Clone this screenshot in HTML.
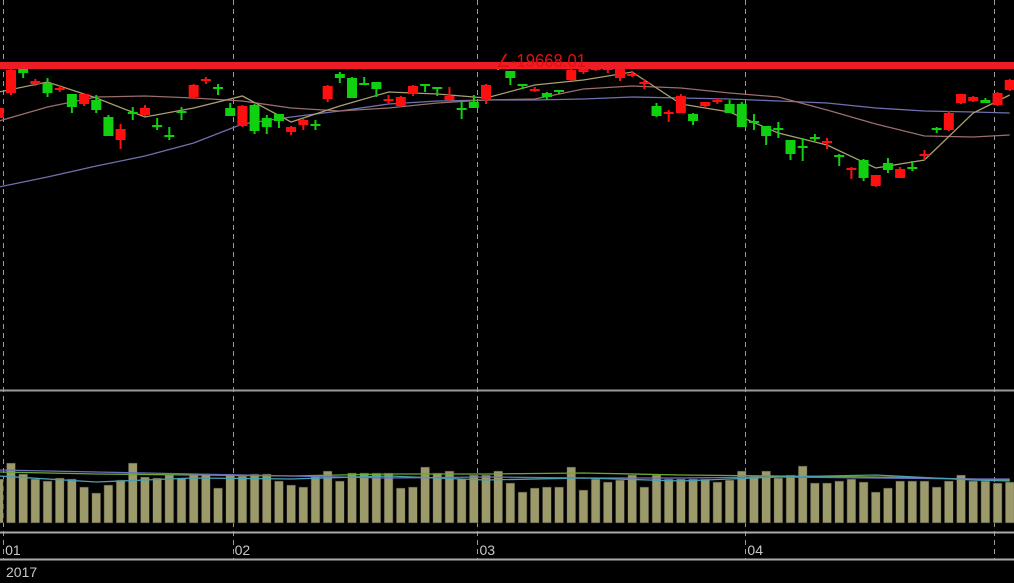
<!DOCTYPE html>
<html><head><meta charset="utf-8"><style>
html,body{margin:0;padding:0;background:#000;width:1014px;height:583px;overflow:hidden}
svg{display:block}
text{font-family:"Liberation Sans",sans-serif}
</style></head><body>
<svg id="chart" width="1014" height="583" viewBox="0 0 1014 583" xmlns="http://www.w3.org/2000/svg">
<rect x="0" y="0" width="1014" height="583" fill="#000"/>
<g id="grid"></g>
<g id="vol"></g>
<g id="ma"></g>
<g id="candles"></g>
<rect x="0" y="62" width="1014" height="7" fill="#ee1c25"/>
<text x="496" y="67" fill="#e01010" font-size="18" textLength="90" lengthAdjust="spacingAndGlyphs">∠-19668.01</text>
<g id="axis"></g>
</svg>
<script>
// candle data in price units (y = 400 - value)
const opens=[282,307,337,316,317,311,306,296,300,283,260,288,285,275,265,289,303,320,313,292,274,295,282,286,268,275,276,301,326,322,317,318,300,294,306,316,313,300,292,298,301,337,329,316,310,307,310,320,328,330,331,322,325,317,294,287,287,286,294,299,296,296,279,274,272,260,254,263,258,245,231,240,214,237,222,233,245,272,270,297,299,300,295,310];
const highs=[294,332,337,321,322,315,306,307,305,285,276,293,295,282,273,293,316,323,316,297,295,296,285,286,274,281,280,315,328,323,323,318,305,304,315,316,313,313,298,305,316,338,329,316,313,308,310,332,332,338,338,331,329,321,297,290,306,287,298,302,300,298,286,274,278,260,262,266,262,246,233,241,225,242,233,239,250,273,289,306,304,302,308,321];
const lows=[280,305,322,314,303,308,287,294,287,264,251,280,284,270,260,280,301,316,305,284,273,266,266,272,265,270,270,298,317,302,316,303,297,293,304,308,304,299,281,292,296,330,315,311,308,300,306,319,326,329,327,319,323,311,283,278,287,275,292,296,287,273,270,255,262,240,239,259,251,234,221,219,213,227,222,229,240,267,269,296,298,297,294,309];
const closes=[292,330,327,319,307,312,293,306,290,264,271,287,292,273,264,288,315,321,312,284,294,269,273,279,273,280,275,314,322,302,316,311,301,303,314,315,312,304,291,292,315,332,322,315,311,303,309,330,332,336,332,331,326,318,284,288,304,279,298,300,287,273,278,264,271,246,253,262,259,244,232,222,225,230,231,232,246,271,287,306,303,297,307,320];
const volumes=[44,60,49,44,42,45,44,36,30,38,43,60,46,45,48,45,48,49,35,49,47,49,49,42,38,36,48,52,42,50,50,50,50,35,36,56,50,52,44,48,48,52,40,31,35,36,36,56,33,44,41,43,48,36,48,44,44,44,44,41,43,52,47,52,45,48,57,40,40,42,44,41,31,35,42,42,42,36,42,48,42,42,40,41];
// moving averages sampled every 4 candles (price units)
const ma5=[308,318,302,283,292,304,278,294,308,306,302,315,320,328,296,288,267,255,232,240,287,305];
const ma25=[279,293,303,304,302,299,292,289,292,297,300,301,311,314,312,307,303,290,276,264,263,265];
const ma75=[213,223,234,244,257,276,283,289,296,299,300,300,301,303,302,301,299,297,292,289,288,287];
// volume MAs sampled every 8 bars (volume units)
const vmaGreen=[51,49,48,47,49,49,50,48,47,46,44,43];
const vmaCyan=[47,41,45,44,47,43,45,42,46,48,43,42];
const vmaPurple=[53,51,49,47,45,46,45,45,46,45,44,44];
const monthLabels=["01","02","03","04"];
const monthIdx=[0.35,19.2,39.3,61.3,81.7];

const NS="http://www.w3.org/2000/svg";
const X=i=>-1.2+i*12.18;
const Y=v=>400-v;
const VY=v=>523-v;
function mk(tag,attrs,parent){const e=document.createElementNS(NS,tag);for(const k in attrs)e.setAttribute(k,attrs[k]);parent.appendChild(e);return e;}
const grid=document.getElementById('grid'),vol=document.getElementById('vol'),ma=document.getElementById('ma'),cg=document.getElementById('candles'),axis=document.getElementById('axis');

monthIdx.forEach((m,k)=>{
  const x=Math.round(X(m))+0.5;
  const l=mk('line',{x1:x,y1:0,x2:x,y2:560,stroke:'#9a9a9a','stroke-width':1,'stroke-dasharray':'5,4'},grid);
  
  
});
[[390.5,'#9a9a9a'],[532.5,'#aaaaaa'],[559.5,'#aaaaaa']].forEach(([y,c])=>{
  const l=mk('line',{x1:0,y1:y,x2:1014,y2:y,stroke:c,'stroke-width':2},grid);
  
  
});

volumes.forEach((v,i)=>{
  const r=mk('rect',{x:X(i)-4.5,y:VY(v),width:9,height:v,fill:'#9c9a6a',stroke:'#222','stroke-width':0.6},vol);
  
  
});
function poly(arr,step,scale,color,parent,name){
  const pts=arr.map((v,k)=>[X(Math.min(k*step,83)),scale(v)]);
  const p=mk('polyline',{points:pts.map(p=>p.join(',')).join(' '),fill:'none',stroke:color,'stroke-width':1.3},parent);
  
  
}
poly(vmaGreen,8,VY,'#6aa832',vol,'volume-ma-green');
poly(vmaPurple,8,VY,'#7070c0',vol,'volume-ma-purple');
poly(vmaCyan,8,VY,'#4aa0b0',vol,'volume-ma-cyan');

poly(ma75,4,Y,'#7070b0',ma,'ma-long');
poly(ma25,4,Y,'#9a6e6e',ma,'ma-mid');
poly(ma5,4,Y,'#a8a070',ma,'ma-short');

opens.forEach((o,i)=>{
  const c=closes[i],up=c>=o,col=up?'#ff1010':'#10d010';
  const x=X(i);
  const w=mk('line',{x1:x,y1:Y(highs[i]),x2:x,y2:Y(lows[i]),stroke:col,'stroke-width':2},cg);
  
  
  const top=Y(Math.max(o,c)),h=Math.max(2,Math.abs(c-o));
  const b=mk('rect',{x:x-5,y:top,width:10,height:h,fill:col},cg);
  
  
});

monthLabels.forEach((t,k)=>{
  const e=mk('text',{x:X(monthIdx[k])+2,y:555,fill:'#c8c8c8','font-size':14},axis);
  e.textContent=t;
  
  
});
const yr=mk('text',{x:6,y:577,fill:'#c8c8c8','font-size':14},axis);
yr.textContent='2017';


</script>
</body></html>
